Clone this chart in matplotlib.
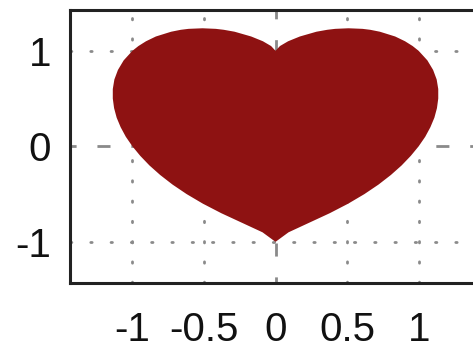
import numpy as np
import matplotlib
matplotlib.use("Agg")
import matplotlib.pyplot as plt

# right half of the heart outline, bottom tip -> cusp
heart_x = [0.0, 0.091, 0.235, 0.379, 0.508, 0.621, 0.720, 0.806, 0.881, 0.945,
           1.0, 1.046, 1.082, 1.110, 1.128, 1.137, 1.137, 1.126, 1.101, 1.061,
           1.0, 0.958, 0.905, 0.836, 0.729, 0.662, 0.608, 0.51, 0.417, 0.361,
           0.286, 0.17, 0.088, 0.031, 0.0]
heart_y = [-1.0, -0.9, -0.8, -0.7, -0.6, -0.5, -0.4, -0.3, -0.2, -0.1,
           0.0, 0.1, 0.2, 0.3, 0.4, 0.5, 0.6, 0.7, 0.8, 0.9,
           1.0, 1.05, 1.1, 1.15, 1.2, 1.22, 1.23, 1.236, 1.23, 1.22,
           1.2, 1.15, 1.1, 1.05, 1.0]

xticks = [-1, -0.5, 0, 0.5, 1]
xtick_labels = ["-1", "-0.5", "0", "0.5", "1"]
yticks = [-1, 0, 1]
ytick_labels = ["-1", "0", "1"]
grid_x = [-1, -0.5, 0.5, 1]
grid_y = [-1, 1]

plt.rcParams['font.family'] = ['Liberation Sans', 'DejaVu Sans']
plt.rcParams['axes.unicode_minus'] = False

fig = plt.figure(figsize=(4.73, 3.48), dpi=100)
ax = fig.add_axes([0.148, 0.187, 0.869, 0.785])

hx = np.array(heart_x)
hy = np.array(heart_y)
outline_x = np.concatenate([hx, -hx[::-1]])
outline_y = np.concatenate([hy, hy[::-1]])

gcol = '#8a8a8a'
lw = 2.0
dotted = (0, (0.5, 6.8))
dashed = (2.5, (4.7, 7.5))
for gx in grid_x:
    ax.axvline(gx, color=gcol, lw=lw, linestyle=dotted, dash_capstyle='round', zorder=1)
for gy in grid_y:
    ax.axhline(gy, color=gcol, lw=lw, linestyle=dotted, dash_capstyle='round', zorder=1)
ax.axvline(0, color=gcol, lw=lw, linestyle=dashed, zorder=1)
ax.axhline(0, color=gcol, lw=lw, linestyle=dashed, zorder=1)

ax.fill(outline_x, outline_y, color='#8e1212', lw=0, zorder=2)

ax.set_xlim(-1.436, 1.436)
ax.set_ylim(-1.43, 1.43)
ax.set_xticks(xticks)
ax.set_xticklabels(xtick_labels)
ax.set_yticks(yticks)
ax.set_yticklabels(ytick_labels)
ax.tick_params(axis='x', length=0, pad=20, labelsize=29, labelcolor='#111111')
ax.tick_params(axis='y', length=0, pad=13.5, labelsize=29, labelcolor='#111111')
for s in ax.spines.values():
    s.set_linewidth(2.2)
    s.set_color('#222222')

fig.savefig("out.png", dpi=100)
